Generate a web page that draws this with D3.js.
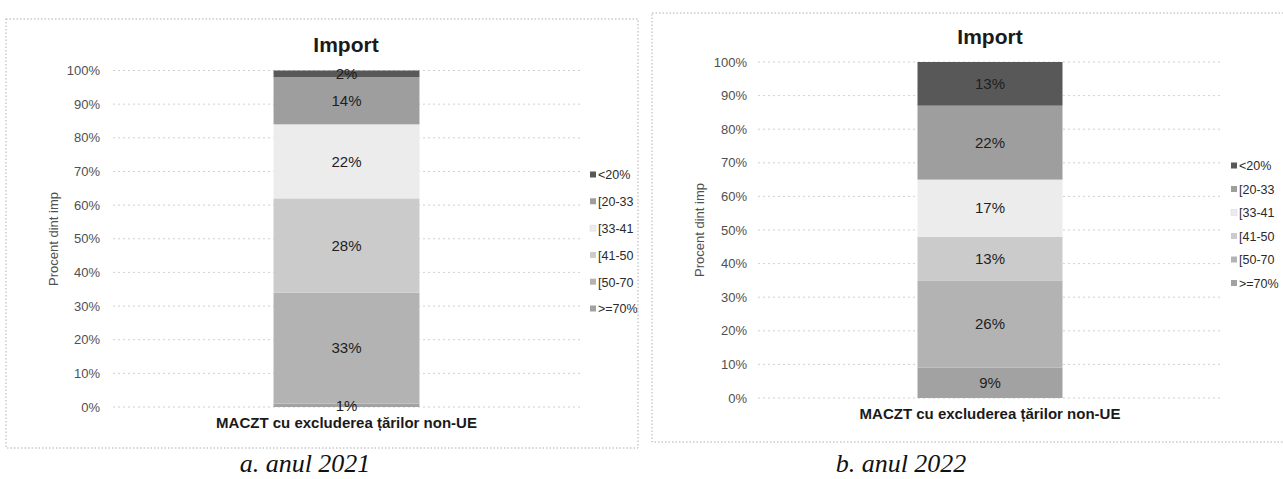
<!DOCTYPE html>
<html>
<head>
<meta charset="utf-8">
<script src="https://cdn.jsdelivr.net/npm/d3@7"></script>
<style>
  html, body { margin: 0; padding: 0; background: #fff; }
  svg { display: block; }
</style>
</head>
<body>
<svg id="chart" width="1283" height="479"></svg>
<script>
// ---- data ----
const seriesNames = ["<20%", "[20-33", "[33-41", "[41-50", "[50-70", ">=70%"];
const values2021 = [2, 14, 22, 28, 33, 1];
const values2022 = [13, 22, 17, 13, 26, 9];
const categoryLabel = ["MACZT cu excluderea țărilor non-UE"];
const yTickValues = [0, 10, 20, 30, 40, 50, 60, 70, 80, 90, 100];
const yTickLabels = ["0%", "10%", "20%", "30%", "40%", "50%", "60%", "70%", "80%", "90%", "100%"];
const chartTitle = "Import";
const yAxisTitle = "Procent dint imp";
const captions = ["a. anul 2021", "b. anul 2022"];

// ---- styles ----
const colors = ["#585858", "#9e9e9e", "#ececec", "#cbcbcb", "#b3b3b3", "#a2a2a2"];
const sans = "'Liberation Sans', Arial, sans-serif";

const svg = d3.select("#chart");
const defs = svg.append("defs");

const layouts = [
  { frame: [6, 19, 638, 448], yRange: [407, 70.5], gx: [113, 580], labelX: 100,
    yTitle: [53, 239], title: [346, 45], legend: { mx: 593, tx: 598, y0: 175, step: 26.8, fs: 12.5 },
    caption: [305, 463], values: values2021 },
  { frame: [652, 13, 1290, 442], yRange: [398, 62], gx: [758, 1222], labelX: 747,
    yTitle: [699, 230], title: [990, 37], legend: { mx: 1234, tx: 1239, y0: 166, step: 23.5, fs: 12.5 },
    caption: [901, 463], values: values2022 }
];

layouts.forEach((L, ci) => {
  const [fx0, fy0, fx1, fy1] = L.frame;
  const clipId = "clip" + ci;
  defs.append("clipPath").attr("id", clipId)
    .append("rect").attr("x", fx0).attr("y", fy0).attr("width", fx1 - fx0).attr("height", fy1 - fy0);

  const g = svg.append("g").attr("clip-path", `url(#${clipId})`);

  // frame
  svg.append("rect")
    .attr("x", fx0).attr("y", fy0).attr("width", fx1 - fx0).attr("height", fy1 - fy0)
    .attr("fill", "none").attr("stroke", "#9a9a9a").attr("stroke-width", 0.8)
    .attr("stroke-dasharray", "1.5,2");

  const y = d3.scaleLinear().domain([0, 100]).range(L.yRange);
  const x = d3.scaleBand().domain(categoryLabel).range(L.gx).paddingInner(0).paddingOuter(1.1);

  // gridlines
  g.append("g").selectAll("line").data(yTickValues).join("line")
    .attr("x1", L.gx[0]).attr("x2", L.gx[1])
    .attr("y1", d => y(d)).attr("y2", d => y(d))
    .attr("stroke", "#c4c4c4").attr("stroke-width", 0.8).attr("stroke-dasharray", "2,3");

  // y axis labels
  const yAxis = d3.axisLeft(y).tickValues(yTickValues)
    .tickFormat((d, i) => yTickLabels[i]).tickSize(0).tickPadding(0);
  const ya = g.append("g").attr("transform", `translate(${L.labelX},0)`).call(yAxis);
  ya.select(".domain").remove();
  ya.selectAll("text").attr("font-family", sans).attr("font-size", 13).attr("fill", "#505050");

  // stacked bar (bottom series is last in list)
  const keys = seriesNames.slice().reverse();
  const row = {};
  seriesNames.forEach((s, i) => row[s] = L.values[i]);
  const stack = d3.stack().keys(keys)([row]);

  const bars = g.append("g");
  stack.forEach(layer => {
    const idx = seriesNames.indexOf(layer.key);
    const d = layer[0];
    bars.append("rect")
      .attr("x", x(categoryLabel[0])).attr("width", x.bandwidth())
      .attr("y", y(d[1])).attr("height", y(d[0]) - y(d[1]))
      .attr("fill", colors[idx]);
  });
  stack.forEach(layer => {
    const idx = seriesNames.indexOf(layer.key);
    const d = layer[0];
    bars.append("text")
      .attr("x", x(categoryLabel[0]) + x.bandwidth() / 2)
      .attr("y", y((d[0] + d[1]) / 2))
      .attr("dy", "0.35em").attr("text-anchor", "middle")
      .attr("font-family", sans).attr("font-size", 15).attr("fill", "#1e1e1e")
      .text(L.values[idx] + "%");
  });

  // category (x axis) label
  const xAxis = d3.axisBottom(x).tickSize(0).tickPadding(10);
  const xa = g.append("g").attr("transform", `translate(0,${L.yRange[0]})`).call(xAxis);
  xa.select(".domain").remove();
  xa.selectAll("text").attr("font-family", sans).attr("font-size", 15)
    .attr("font-weight", "bold").attr("fill", "#1a1a1a");

  // title
  g.append("text").attr("x", L.title[0]).attr("y", L.title[1]).attr("dy", "0.35em")
    .attr("text-anchor", "middle").attr("font-family", sans).attr("font-weight", "bold")
    .attr("font-size", 21).attr("fill", "#1a1a1a").text(chartTitle);

  // y title
  g.append("text")
    .attr("transform", `translate(${L.yTitle[0]},${L.yTitle[1]}) rotate(-90)`)
    .attr("dy", "0.35em").attr("text-anchor", "middle")
    .attr("font-family", sans).attr("font-size", 13).attr("fill", "#505050").text(yAxisTitle);

  // legend
  const lg = g.append("g");
  seriesNames.forEach((s, i) => {
    const ly = L.legend.y0 + i * L.legend.step;
    lg.append("rect").attr("x", L.legend.mx - 3).attr("y", ly - 3.5).attr("width", 6).attr("height", 6)
      .attr("fill", colors[i]).attr("stroke", i === 2 ? "#d8d8d8" : "none").attr("stroke-width", 0.5);
    lg.append("text").attr("x", L.legend.tx).attr("y", ly).attr("dy", "0.35em")
      .attr("font-family", sans).attr("font-size", L.legend.fs).attr("fill", "#2a2a2a").text(s);
  });

  // caption
  svg.append("text").attr("x", L.caption[0]).attr("y", L.caption[1]).attr("dy", "0.35em")
    .attr("text-anchor", "middle").attr("font-family", "'Liberation Serif', 'Times New Roman', serif")
    .attr("font-style", "italic").attr("font-size", 26).attr("fill", "#111").text(captions[ci]);
});
</script>
</body>
</html>
